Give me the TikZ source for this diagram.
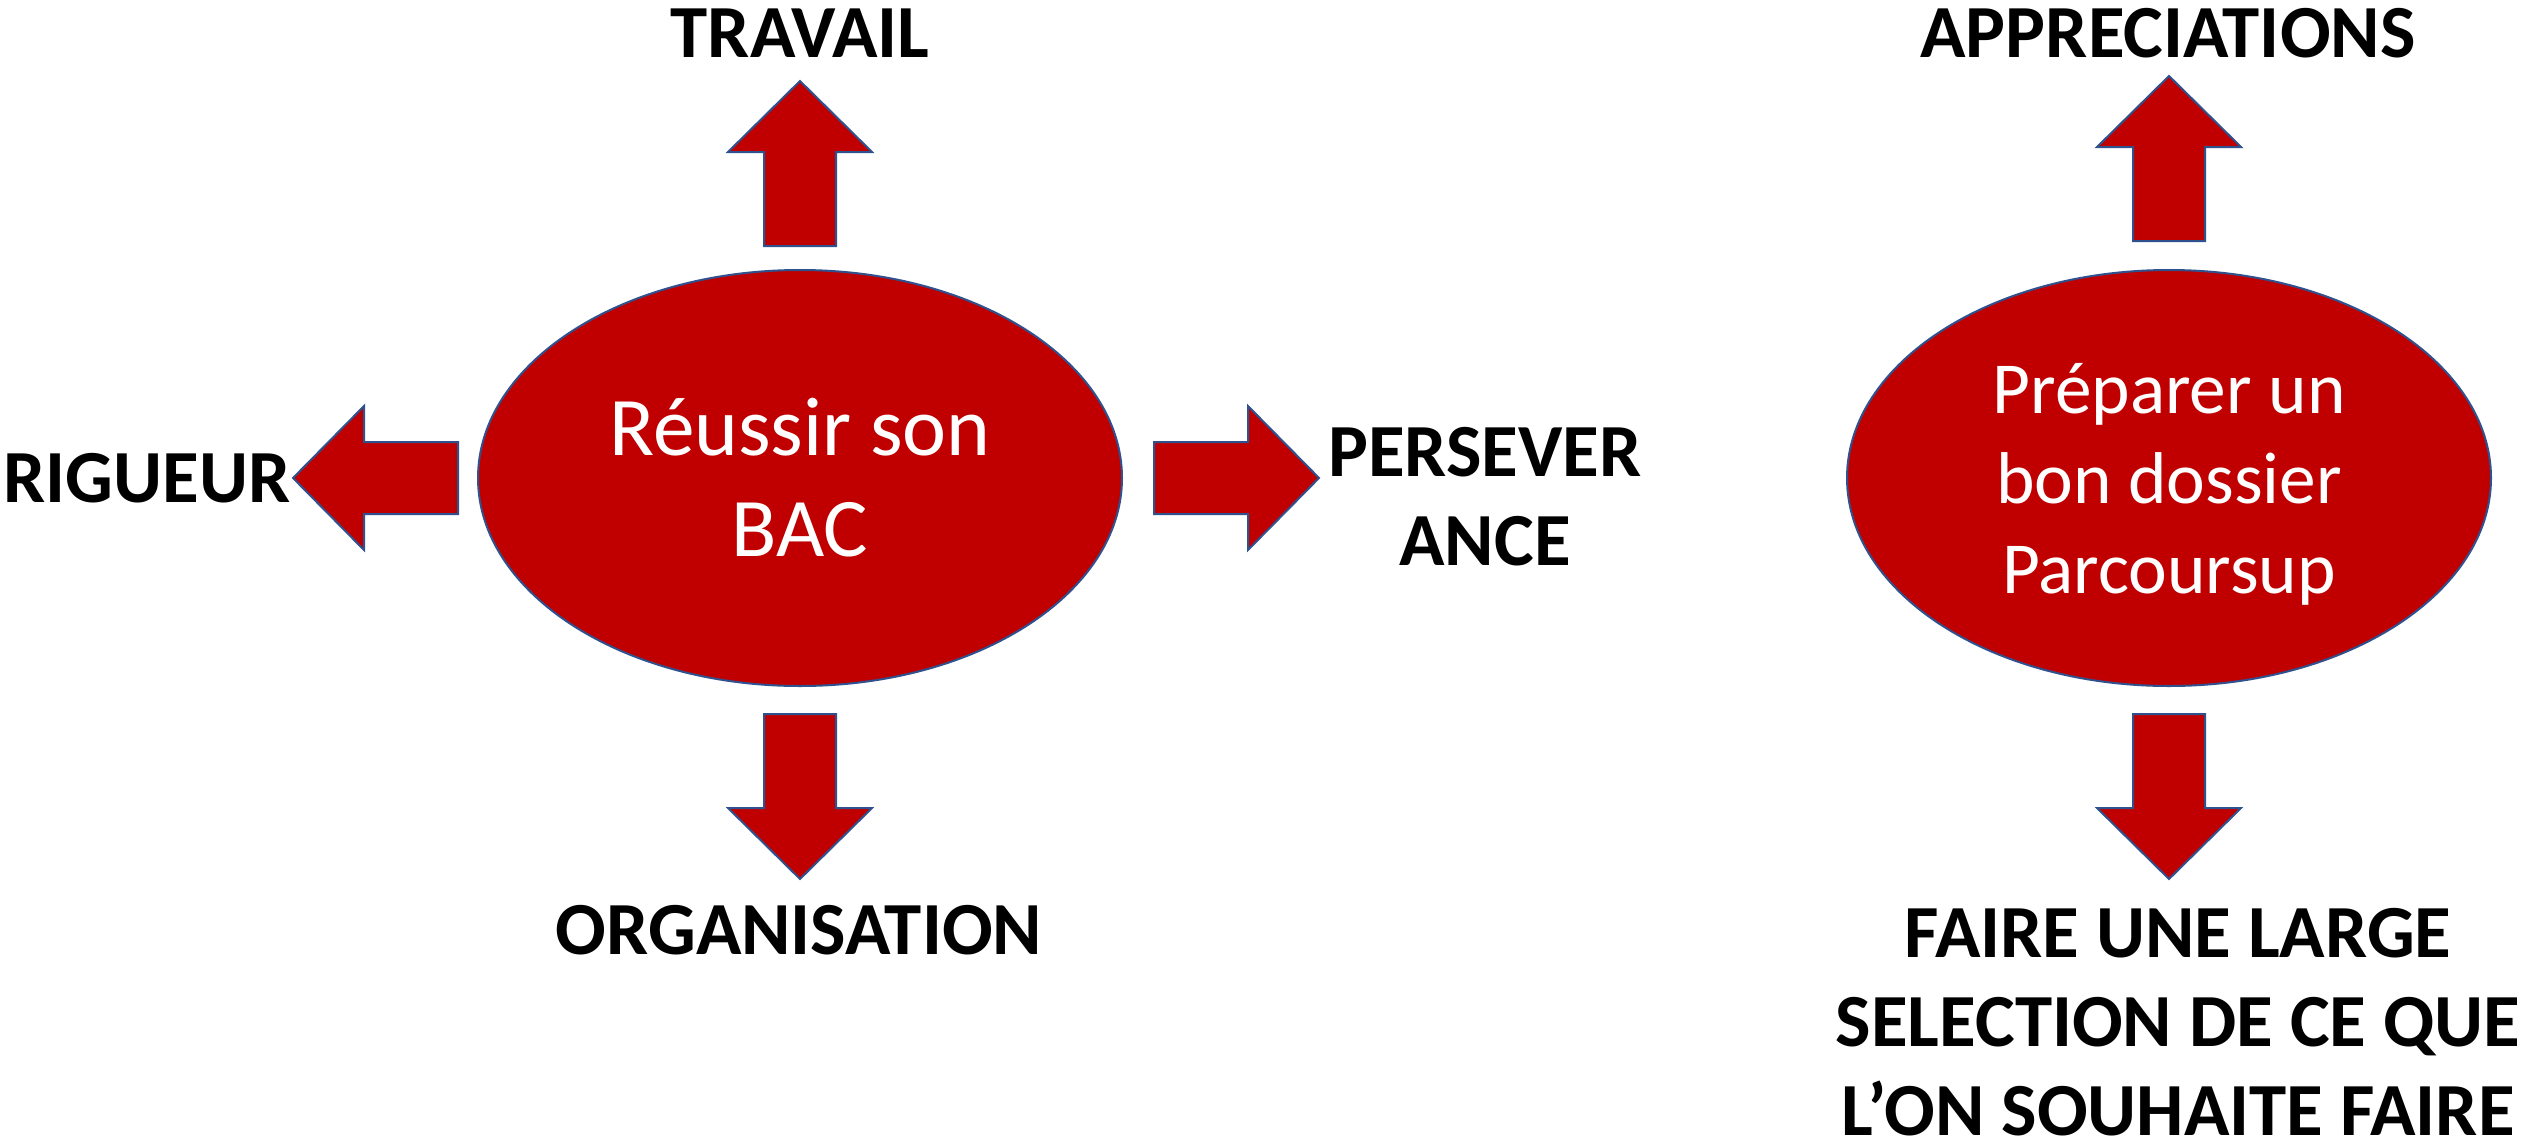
\documentclass[tikz,border=0pt]{standalone}
\usepackage{fontspec}
\setmainfont{Carlito}
\usetikzlibrary{shapes.geometric,calc}
\definecolor{bred}{HTML}{C00000}
\definecolor{bline}{HTML}{2F528F}
\tikzset{
  oval/.style={ellipse, fill=bred, draw=bline, line width=0.6pt, inner sep=0pt,
    minimum width=193.2pt, minimum height=124.8pt, text=white, align=center},
  lbl/.style={font=\fontsize{22.5}{26.7}\selectfont\bfseries, text=black, align=center, inner sep=0pt},
  pics/barrow/.style={code={
    \filldraw[fill=bred, draw=bline, line width=0.6pt, line join=miter]
      (0,-36) -- (94,-36) -- (94,-72) -- (165,0) -- (94,72) -- (94,36) -- (0,36) -- cycle;}}
}
\begin{document}
\begin{tikzpicture}[x=0.3pt,y=-0.3pt]
\useasboundingbox (0,0) rectangle (2531,1145);
% central shapes
\node[oval, font=\fontsize{25}{30.3}\selectfont] (bac) at (800,478) {Réussir son\\BAC};
\node[oval, font=\fontsize{22}{27}\selectfont, text depth=0pt] (psup) at (2169,478) {Préparer un\\bon dossier\\Parcoursup};
% labels
\node[lbl, anchor=base] (travail) at (800,58) {TRAVAIL};
\node[lbl, anchor=base] (rigueur) at (147,502) {RIGUEUR};
\node[lbl, anchor=base] (orga) at (799,954) {ORGANISATION};
\node[lbl] (perse) at (1485,497) {PERSEVER\\ANCE};
\node[lbl, anchor=base] (appr) at (2168,58) {APPRECIATIONS};
\node[lbl] (faire) at (2178,1022) {FAIRE UNE LARGE\\SELECTION DE CE QUE\\L’ON SOUHAITE FAIRE};
% block arrows
\pic[rotate=90] at ($(bac.north)+(0,-23)$) {barrow};
\pic[rotate=-90] at ($(bac.south)+(0,27)$) {barrow};
\pic[rotate=180] at ($(bac.west)+(-19,0)$) {barrow};
\pic at ($(bac.east)+(31,0)$) {barrow};
\pic[rotate=90] at ($(psup.north)+(0,-28)$) {barrow};
\pic[rotate=-90] at ($(psup.south)+(0,27)$) {barrow};
\end{tikzpicture}
\end{document}
